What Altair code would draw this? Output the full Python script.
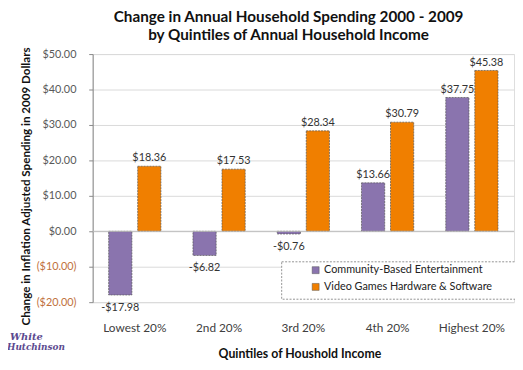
import altair as alt
import pandas as pd

categories = ["Lowest 20%", "2nd 20%", "3rd 20%", "4th 20%", "Highest 20%"]
series_names = ["Community-Based Entertainment", "Video Games Hardware & Software"]
community = [-17.98, -6.82, -0.76, 13.66, 37.75]
video = [18.36, 17.53, 28.34, 30.79, 45.38]
colors = ["#8a74ae", "#f07f00"]

rows = []
for c, a, b in zip(categories, community, video):
    rows.append({"cat": c, "series": series_names[0], "v": a})
    rows.append({"cat": c, "series": series_names[1], "v": b})
df = pd.DataFrame(rows)

FONT = "Lato"

x = alt.X("cat:N", sort=categories,
          scale=alt.Scale(paddingInner=0.38, paddingOuter=0.19),
          axis=alt.Axis(title="Quintiles of Houshold Income", labelAngle=0,
                        domain=False, ticks=False, labelPadding=21,
                        labelFontSize=12, labelColor="#404040", labelFont=FONT,
                        titleFont=FONT, titleFontSize=12.5, titleFontWeight="bold",
                        titleColor="#111", titlePadding=14, titleX=210))
xo = alt.XOffset("series:N", sort=series_names, scale=alt.Scale(paddingInner=0.2))
y = alt.Y("v:Q", scale=alt.Scale(domain=[-20, 50], nice=False, zero=False),
          axis=alt.Axis(title="Change in Inflation Adjusted Spending in 2009 Dollars",
                        values=[-20, -10, 0, 10, 20, 30, 40, 50],
                        labelOverlap=False, labelFlush=False,
                        labelExpr="datum.value < 0 ? '($' + format(-datum.value, '.2f') + ')' : '$' + format(datum.value, '.2f')",
                        labelColor=alt.ExprRef(expr="datum.value < 0 ? '#c0703c' : '#595959'"),
                        labelFontSize=11, labelFont=FONT, labelPadding=13,
                        domainColor="#888", tickColor="#888", tickSize=4,
                        gridColor="#d9d9d9",
                        titleFont=FONT, titleFontSize=11.8, titleFontWeight="bold",
                        titleColor="#111", titleX=-68, titleY=134, titleAngle=-90,
                        titleAlign="center", titleBaseline="middle"))

color = alt.Color("series:N", sort=series_names,
                  scale=alt.Scale(domain=series_names, range=colors),
                  legend=alt.Legend(title=None, orient="none", legendX=221, legendY=214,
                                    symbolType="square", symbolSize=50,
                                    symbolStrokeColor="#555", symbolStrokeWidth=0.5,
                                    labelFont=FONT, labelFontSize=11, labelColor="#222",
                                    rowPadding=5, labelOffset=3, labelLimit=300))

box = alt.Chart(pd.DataFrame({"a": [0]})).mark_rect(
    fill="white", stroke="#777", strokeDash=[2, 1.5], strokeWidth=0.8
).encode(x=alt.value(192), x2=alt.value(430), y=alt.value(211), y2=alt.value(249))

bars = alt.Chart(df).mark_bar(stroke="#555", strokeWidth=0.7, strokeDash=[2, 1]).encode(
    x=x, xOffset=xo, y=y, color=color)

zero = alt.Chart(pd.DataFrame({"v": [0]})).mark_rule(color="#bbbbbb", strokeWidth=1).encode(
    y=y)

pos_labels = alt.Chart(df).transform_filter("datum.v >= 0").transform_calculate(
    txt="'$' + format(datum.v, '.2f')"
).mark_text(font=FONT, fontSize=11, color="#333", dy=-8).encode(
    x=x, xOffset=xo, y=y, text="txt:N")

neg_labels = alt.Chart(df).transform_filter("datum.v < 0").transform_calculate(
    txt="'-$' + format(-datum.v, '.2f')"
).mark_text(font=FONT, fontSize=11, color="#333", dy=13).encode(
    x=x, xOffset=xo, y=y, text="txt:N")

logo1 = alt.Chart(pd.DataFrame({"t": ["White"]})).mark_text(
    font="DejaVu Serif", fontStyle="italic", fontSize=10, color="#5b4a8f", align="left",
    fontWeight="bold").encode(x=alt.value(-84), y=alt.value(287), text="t:N")
logo2 = alt.Chart(pd.DataFrame({"t": ["Hutchinson"]})).mark_text(
    font="DejaVu Serif", fontStyle="italic", fontSize=9, color="#5b4a8f", align="left",
    fontWeight="bold").encode(x=alt.value(-87), y=alt.value(298), text="t:N")

chart = alt.layer(bars, box, zero, pos_labels, neg_labels, logo1, logo2).properties(
    width=428, height=252,
    title=alt.TitleParams(
        text=["Change in Annual Household Spending 2000 - 2009",
              "by Quintiles of Annual Household Income"],
        font=FONT, fontSize=15.5, fontWeight="bold", color="#111",
        anchor="middle", dx=-15, offset=3, lineHeight=19),
    autosize=alt.AutoSizeParams(type="none"),
    padding={"left": 86, "top": 44, "right": 1, "bottom": 60},
).configure_view(stroke=None).configure(background="white")

chart.save("out.html", embed_options={"renderer": "svg", "actions": False})
